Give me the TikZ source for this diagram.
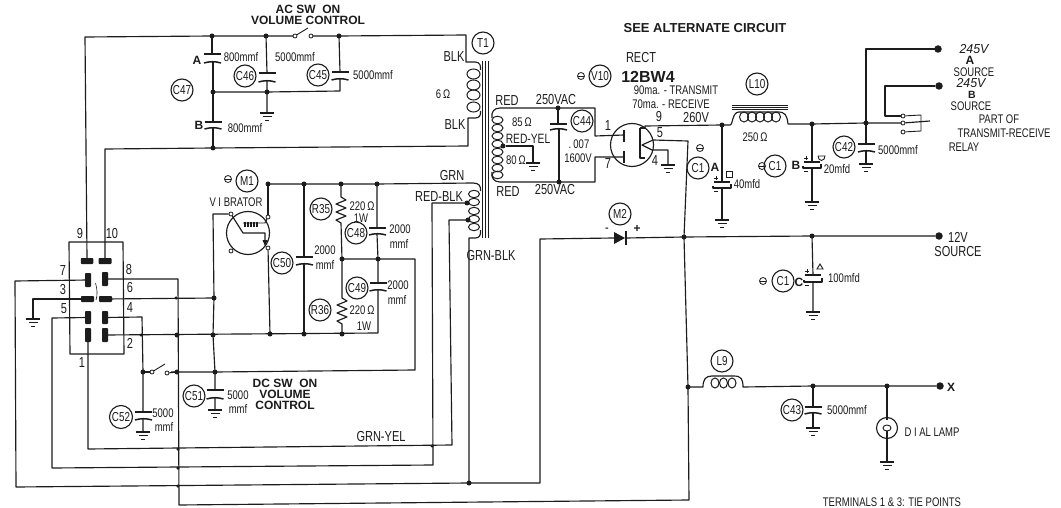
\documentclass[tikz,border=0pt]{standalone}
\usepackage{fontspec}
\setmainfont[FakeStretch=0.76]{Liberation Sans}
\newfontfamily\boldfam[FakeStretch=1.0]{Liberation Sans Bold}
\newfontfamily\italfam[FakeStretch=0.95]{Liberation Sans Italic}
\definecolor{ink}{HTML}{1C1C1C}
\tikzset{
  wire/.style={draw=ink,line width=1.15pt,line join=round},
  thinw/.style={draw=ink,line width=0.9pt},
  lbl/.style={text=ink,inner sep=0pt,font=\fontsize{12.5}{13}\selectfont,align=center},
  big/.style={text=ink,inner sep=0pt,font=\fontsize{14.5}{15}\selectfont,align=center},
  bld/.style={text=ink,inner sep=0pt,font=\boldfam\fontsize{12}{11.5}\selectfont,align=center},
  ital/.style={text=ink,inner sep=0pt,font=\italfam\fontsize{13}{13}\selectfont},
  cl/.style={circle,draw=ink,line width=1.1pt,inner sep=0pt,minimum size=22pt,text=ink,font=\fontsize{13}{13}\selectfont},
  neg/.style={circle,draw=ink,line width=0.8pt,inner sep=0pt,minimum size=7pt,path picture={\draw[ink,line width=.8pt] (path picture bounding box.west)--(path picture bounding box.east);}},
  jn/.style={circle,fill=ink,inner sep=0pt,minimum size=5pt},
  hop/.style={circle,fill=ink,inner sep=0pt,minimum size=3.5pt},
  term/.style={circle,fill=ink,inner sep=0pt,minimum size=7.5pt},
  ct/.style={circle,draw=ink,fill=white,line width=0.8pt,inner sep=0pt,minimum size=4pt},
  pad/.style={fill=ink,rounded corners=0.8pt,draw=none,inner sep=0pt},
}
\newcommand\mygnd[2]{%
  \draw[wire] (#1-7,#2)--(#1+7,#2);
  \draw[thinw] (#1-4.5,#2+3.5)--(#1+4.5,#2+3.5);
  \draw[thinw] (#1-2,#2+7)--(#1+2,#2+7);}
\newcommand\mycap[3]{%
  \draw[wire,line width=1.5pt] (#1-8.5,#2)--(#1+8.5,#2);
  \draw[wire,line width=1.5pt] (#1-8.5,#3+1) .. controls (#1-3,#3-0.7) and (#1+3,#3-0.7) .. (#1+8.5,#3+1);}
\newcommand\myelec[3]{%
  \draw[wire,line width=1.5pt] (#1-8,#2)--(#1+8,#2);
  \draw[wire] (#1-9,#3-1)--(#1-9,#3+1)--(#1+9,#3+1)--(#1+9,#3-3);
  \draw[thinw] (#1-6,#2-6)--(#1-6,#2-2) (#1-8,#2-4)--(#1-4,#2-4);
  \draw[thinw] (#1-8,#3+4)--(#1-4,#3+4);}
\begin{document}
\begin{tikzpicture}[x=1pt,y=-1pt]
\useasboundingbox (0,0) rectangle (1061,508);
\fill[white] (0,0) rectangle (1061,508);
% ---------- named points
\coordinate (p9) at (87,258);
\coordinate (p10) at (105,258);
\coordinate (tl) at (85,37);
\coordinate (jA) at (212,36);
\coordinate (jB) at (266,36);
\coordinate (swa) at (295,36);
\coordinate (swb) at (311,36);
\coordinate (jC) at (339,36);
\coordinate (t1a) at (466,35);
\coordinate (jD) at (213,92);
\coordinate (jE) at (267,92);
\coordinate (jF) at (213,148);
\coordinate (jG) at (268,184);
\coordinate (jH) at (304,184);
\coordinate (jI) at (341,184);
\coordinate (jJ) at (377,184);
\coordinate (jK) at (342,259);
\coordinate (jL) at (378,259);
\coordinate (b6) at (176,298);
\coordinate (jM) at (214,298);
\coordinate (b2a) at (141,335);
\coordinate (b2b) at (177,335);
\coordinate (b2c) at (213,335);
\coordinate (b2d) at (270,334);
\coordinate (b2e) at (304,334);
\coordinate (b2f) at (342,334);
\coordinate (b2g) at (378,333);
\coordinate (jS) at (143,372);
\coordinate (jT) at (177,372);
\coordinate (jU) at (215,372);
\coordinate (h1) at (178,449);
\coordinate (h2) at (178,468);
\coordinate (h3) at (178,486);
\coordinate (h4) at (432,446);
\coordinate (jV) at (469,483);
\coordinate (jW) at (558,108);
\coordinate (jX) at (559,182);
\coordinate (jY) at (722,125);
\coordinate (jZ) at (812,124);
\coordinate (jAA) at (866,123);
\coordinate (jAB) at (684,237);
\coordinate (jAC) at (812,236);
\coordinate (jAD) at (688,387);
\coordinate (jAE) at (813,386);
\coordinate (jAF) at (887,386);
\coordinate (tA) at (938,49);
\coordinate (tB) at (939,86);
\coordinate (tC) at (939,236);
\coordinate (tX) at (940,386);
% ---------- AC section
\draw[wire] (p9)--(tl)--(jA)--(jB)--(swa);
\draw[wire] (swb)--(jC)--(t1a)--(466,62)--(475,62) .. controls (480,62) and (481,66) .. (480.5,70);
\draw[wire] (480.5,111) .. controls (481,116) and (479,118) .. (475,118)--(468,118)--(468,146)--(jF)--(105,149)--(p10);
\draw[wire] (jA)--(212,54) (213,62)--(jD)--(213,122) (213,128)--(jF);
\draw[wire] (jB)--(267,73) (267,81)--(jE)--(267,113);
\draw[wire] (jC)--(340,72) (340,79)--(340,91)--(jE)--(jD);
\mycap{212.5}{54}{62}\mycap{267}{73}{81}\mycap{340}{72}{79}\mycap{213}{122}{128}
\mygnd{267}{113}
\draw[thinw] (296.5,35)--(308,28);
\node[ct] (nsa) at (swa) {}; \node[ct] (nsb) at (swb) {};
\foreach \n in {jA,jB,jC,jD,jE,jF} \node[jn] at (\n) {};
\node[cl] (c47) at (182,90) {C47}; \node[cl] (c46) at (245,76) {C46}; \node[cl] (c45) at (318,75) {C45};
\node[cl] (t1) at (483,43) {T1}; \node[cl] (m1) at (247,181) {M1}; \node[neg] (nm1) at (228,179) {};
\node[bld] (lA) at (197,60) {A}; \node[bld] (lB) at (199,125) {B};
\node[lbl] (t800a) at (241,57) {800mmf}; \node[lbl] (t800b) at (245,128) {800mmf};
\node[lbl] (t5a) at (295,57) {5000mmf}; \node[lbl] (t5b) at (373,75) {5000mmf};
\node[bld] (tac) at (308,15) {AC\ SW\ \ ON\\[-0.5pt]VOLUME CONTROL};
\node[big] (tb1) at (454,57) {BLK}; \node[big] (tb2) at (455,125) {BLK};
\node[lbl] (t6) at (443,94) {6$\,$Ω};
% ---------- transformer
\foreach \x in {482,485,488} \draw[thinw] (\x,61)--(\x,238);
\foreach \y in {74,85,95,107} \draw[thinw,line width=1pt] (473.5,\y) ellipse [x radius=6.5,y radius=5];
\foreach \y in {194,202,211,219,227} \draw[thinw,line width=1pt] (474,\y) ellipse [x radius=5.5,y radius=3.7];
\foreach \y in {120,128,136,144,152,160,168,175} \draw[thinw,line width=1pt] (497.5,\y) ellipse [x radius=5.5,y radius=3.8];
\draw[wire] (jG)--(jH)--(jI)--(jJ)--(473,183) .. controls (479,183) and (481,186) .. (480.5,191);
\draw[wire] (480.5,230) .. controls (481,236) and (479,238) .. (475,238)--(469,238)--(jV);
\draw[wire] (492,118) .. controls (491,112) and (494,108) .. (500,108)--(jW)--(595,108)--(595,136)--(624,135);
\draw[wire] (492,172) .. controls (491,178) and (494,182) .. (500,182)--(jX)--(595,182)--(595,157)--(624,157);
\draw[wire] (jW)--(558,124) (559,129)--(jX);
\mycap{558.5}{124}{129}
\node[jn] at (jW) {}; \node[jn] at (jX) {};
\node[jn] (tap3) at (503,146) {};
\draw[wire] (tap3)--(533,146)--(533,163);
\mygnd{533}{163}
\node[big] (t1r) at (507,101) {RED}; \node[big] (t250a) at (556,100) {250VAC};
\node[lbl] (t85) at (522,122) {85$\,$Ω}; \node[lbl,font=\fontsize{13.5}{14}\selectfont] (try) at (528,139) {RED-YEL};
\node[lbl] (t80) at (516,160) {80$\,$Ω}; \node[big] (t2r) at (508,192) {RED}; \node[big] (t250b) at (555,190) {250VAC};
\node[cl] (c44) at (582,121) {C44}; \node[lbl] (t007) at (579,144) {.\,007}; \node[lbl] (t1600) at (578,158) {1600V};
\node[big] (tgrn) at (452,176) {GRN}; \node[big] (trb) at (439,197) {RED-BLK}; \node[big] (tgb) at (491,256) {GRN-BLK};
% ---------- tube
\draw[wire] (632,145) circle [radius=21.5];
\draw[wire] (624,130)--(624,142) (624,151)--(624,163);
\draw[wire] (640,128)--(640,158)--(645,158) (640,128)--(645,128);
\draw[wire] (645,128)--(645,126)--(jY)--(730,125) .. controls (733,125) and (732,112) .. (739,112);
\draw[wire] (653,140)--(642,145)--(652,150)--(668,150)--(668,165);
\mygnd{668}{165}
\draw[wire] (653,140)--(688,141)--(jAB)--(jAD)--(689,500)--(179,505)--(178,279)--(108,279);
\node[big] (n1) at (608,126) {1}; \node[big] (n7) at (608,164) {7}; \node[big] (n9) at (659,117) {9};
\node[big] (n5) at (660,133) {5}; \node[big] (n4) at (655,161) {4}; \node[big] (t260) at (696,117.5) {260V};
\node[big] (trect) at (641,58) {RECT}; \node[bld,font=\boldfam\fontsize{16}{16}\selectfont] (t12) at (648,77) {12BW4};
\node[lbl] (t90) at (676,90) {90ma. - TRANSMIT}; \node[lbl] (t70) at (671,104) {70ma. - RECEIVE};
\node[cl] (v10) at (600,76) {V10}; \node[neg] (nv10) at (581,76) {};
\node[bld,font=\boldfam\fontsize{13}{13}\selectfont] (tsee) at (705,28) {SEE ALTERNATE CIRCUIT};
% ---------- filter
\draw[wire] (jY)--(722,182) (722,187)--(722,220);
\myelec{722}{182}{187}\mygnd{722}{220}
\node[jn] at (jY) {};
\node[cl] (c1a) at (698,168) {C1}; \node[neg] (nc1a) at (700,148) {}; \node[bld] (la1) at (715,167) {A};
\draw[thinw] (726,171) rectangle (732,177);
\node[lbl] (t40) at (747,184) {40mfd};
\foreach \x in {744,752,760,768,776} \draw[thinw,line width=1pt] (\x,117) ellipse [x radius=4.5,y radius=5];
\draw[wire] (739,112) -- (778,112) .. controls (785,112) and (787,115) .. (788,124)--(jZ)--(jAA)--(901,123);
\foreach \y in {105,107,109} \draw[thinw] (732,\y)--(788,\y);
\node[cl] (l10) at (757,84) {L10}; \node[lbl] (t250) at (755,137) {250$\,$Ω};
\draw[wire] (jZ)--(812,162) (812,167)--(812,202);
\myelec{812}{162}{167}\mygnd{812}{202}
\node[jn] at (jZ) {};
\node[cl] (c1b) at (775,166) {C1}; \node[neg] (nc1b) at (762,166) {}; \node[bld] (lb1) at (796,165) {B};
\draw[thinw] (818,156)--(825,156) arc (0:-180:3.5 and -4.5);
\node[lbl] (t20) at (837,169) {20mfd};
\draw[wire] (jAA)--(866,144) (866,151)--(866,164);
\mycap{866.5}{144}{151}\mygnd{866}{164}
\draw[wire] (jAA)--(866,49)--(tA);
\node[jn] at (jAA) {};
\node[term] (ntA) at (tA) {}; \node[term] (ntB) at (tB) {};
\draw[wire] (ntB)--(885,86)--(885,116)--(901,116);
\node[ct] (r1) at (903,116) {}; \node[ct] (r2) at (903,123) {}; \node[ct] (r3) at (903,132) {};
\draw[thinw] (r1)--(921,115)--(921,131)--(r3);
\draw[wire] (r2)--(930,121);
\node[cl] (c42) at (844,147) {C42}; \node[lbl] (t5c) at (898,150) {5000mmf};
\node[ital] (v245a) at (974,49) {245V};
\node[bld] (sa) at (970,60) {A}; \node[lbl] (so1) at (974,72) {SOURCE};
\node[ital] (v245b) at (971,83.5) {245V};
\node[bld,font=\boldfam\fontsize{10.5}{11}\selectfont] (sb) at (972,95) {B}; \node[lbl] (so2) at (971,106) {SOURCE};
\node[lbl] (tpart) at (999,119) {PART OF};
\node[lbl] (ttr) at (1004,133) {TRANSMIT-RECEIVE};
\node[lbl] (trel) at (964,147) {RELAY};
% ---------- 12V
\node[term] (ntC) at (tC) {};
\draw[wire] (jV)--(540,483)--(540,239)--(614,238);
\fill[ink] (614,232)--(614,244)--(625,238)--cycle;
\draw[wire,line width=1.6pt] (626,231)--(626,245);
\draw[wire] (626,238)--(jAB)--(jAC)--(ntC);
\draw[wire] (jAC)--(813,275) (813,281)--(813,312);
\myelec{813}{275}{281}\mygnd{813}{312}
\foreach \n in {jAB,jAC} \node[jn] at (\n) {};
\node[cl] (m2) at (620,214) {M2}; \node[big] (mm) at (607,230) {-}; \node[bld] (mp) at (637,229) {+};
\node[big] (t12v) at (958,237) {12V}; \node[big] (so3) at (958,252) {SOURCE};
\node[cl] (c1c) at (783,281) {C1}; \node[neg] (nc1c) at (763,281) {}; \node[bld] (lc1) at (799,282) {C};
\draw[thinw] (817,269)--(823,269)--(820,264)--cycle;
\node[lbl] (t100) at (844,278) {100mfd};
% ---------- L9 branch
\node[term] (ntX) at (tX) {};
\draw[wire] (jAD)--(703,387) .. controls (703,379) and (706,376) .. (712,376)--(734,376) .. controls (741,376) and (743,379) .. (743,387)--(jAE)--(jAF)--(ntX);
\foreach \x in {715,723.5,732} \draw[thinw,line width=1pt] (\x,383) ellipse [x radius=4,y radius=5];
\node[jn] at (jAD) {}; \node[jn] at (jAE) {}; \node[jn] at (jAF) {};
\node[cl] (l9) at (722,361) {L9}; \node[bld] (lx) at (951,387) {X};
\draw[wire] (jAE)--(813,407) (813,413)--(813,428);
\mycap{813}{407}{413}\mygnd{813}{428}
\node[cl] (c43) at (792,410) {C43}; \node[lbl] (t5d) at (847,410) {5000mmf};
\node[cl,minimum size=21pt] (lamp) at (887,428) {};
\draw[thinw] (887,428) ellipse [x radius=4,y radius=3];
\draw[wire] (jAF)--(887,420) (887,431)--(887,462);
\mygnd{887}{462}
\node[lbl] (tdl) at (932,432) {D I AL LAMP};
\node[lbl] (ttp) at (892,502) {TERMINALS 1 \& 3: TIE POINTS};
% ---------- vibrator
\draw[wire] (248,233) circle [radius=21.5];
\node[ct] (vtl) at (231,214) {}; \node[ct] (vtr) at (268,217) {}; \node[ct] (vbl) at (231,251) {}; \node[ct] (vbr) at (268,248) {};
\draw[wire] (vtr)--(jG);
\draw[wire] (vtl)--(213,214)--(jM)--(b2c)--(jU)--(215,390) (215,398)--(215,410);
\mycap{215}{390}{398}\mygnd{215}{410}
\draw[wire] (vbr)--(b2d);
\draw[wire] (vtl)--(243,233)--(265,233)--(265,240);
\fill[ink] (262.5,240)--(267.5,240)--(265,246)--cycle;
\draw[thinw] (243,223)--(265,223)--(vtr);
\foreach \x in {245,248,251,254,257} \draw[wire] (\x,222)--(\x,227);
\node[lbl] (tvib) at (236,202) {V I BRATOR};
% ---------- RC network
\draw[wire] (jH)--(304,257) (304,264)--(b2e);
\mycap{304.5}{257}{264}
\draw[wire] (jI)--(341,197)--(346,200)--(336,204)--(346,208)--(336,212)--(346,216)--(336,220)--(341,223)--(jK)--(342,298)--(347,301)--(337,305)--(347,309)--(337,313)--(347,317)--(337,321)--(342,324)--(b2f);
\draw[wire] (jJ)--(377,228) (377,234)--(jL)--(378,283) (378,290)--(b2g);
\mycap{377.5}{228}{234}\mycap{378}{283}{290}
\draw[wire] (jK)--(jL)--(415,259)--(415,370)--(jU)--(jT)--(171,372);
\foreach \n in {jG,jH,jI,jJ,jK,jL} \node[jn] at (\n) {};
\node[cl] (r35) at (321,209) {R35}; \node[lbl] (t220a) at (362,206) {220$\,$Ω}; \node[lbl] (t1wa) at (361,218.5) {1W};
\node[cl] (c48) at (356,233) {C48}; \node[lbl] (t2000a) at (400,229) {2000}; \node[lbl] (tmmfa) at (399,244) {mmf};
\node[cl] (c49) at (357,288) {C49}; \node[lbl] (t2000b) at (398,285) {2000}; \node[lbl] (tmmfb) at (397,300) {mmf};
\node[cl] (r36) at (320,310) {R36}; \node[lbl] (t220b) at (362,310) {220$\,$Ω}; \node[lbl] (t1wb) at (364,326) {1W};
\node[cl] (c50) at (282,263) {C50}; \node[lbl] (t2000c) at (325,250) {2000}; \node[lbl] (tmmfc) at (325,265) {mmf};
% ---------- switch block
\draw[wire] (123,242)--(69,242)--(70,354)--(124,354)--(123,242);
\node[pad,minimum width=12.5pt,minimum height=6pt] (pd9) at (87,261) {};
\node[pad,minimum width=13pt,minimum height=6pt] (pd10) at (105,261) {};
\node[pad,minimum width=6pt,minimum height=14pt] (pd7) at (88,280) {};
\node[pad,minimum width=6pt,minimum height=14pt] (pd8) at (105,279) {};
\node[pad,minimum width=13pt,minimum height=6pt] (pd3) at (87.5,299) {};
\node[pad,minimum width=13pt,minimum height=6pt] (pd6) at (105.5,299) {};
\node[pad,minimum width=6pt,minimum height=13pt] (pd5) at (88,317.5) {};
\node[pad,minimum width=6pt,minimum height=13pt] (pd4) at (105,317.5) {};
\node[pad,minimum width=6pt,minimum height=14pt] (pd1) at (88,335) {};
\node[pad,minimum width=6pt,minimum height=14pt] (pd2) at (105,335) {};
\draw[thinw,line width=.6pt] (95.5,283) .. controls (97.5,290) and (97.5,295) .. (96,300);
\draw[wire] (pd3)--(33,299)--(33,319);
\mygnd{33}{319}
\draw[wire] (pd7)--(15,281)--(16,487)--(jV);
\draw[wire] (pd5)--(52,318)--(52,468)--(433,465)--(432,203)--(467,203);
\draw[wire] (pd1)--(88,449)--(452,445)--(449,220)--(468,220);
\draw[wire] (pd6)--(jM);
\draw[wire] (pd4)--(142,317)--(jS)--(143,412) (143,419)--(143,432);
\mycap{143.5}{412}{419}\mygnd{143}{432}
\draw[wire] (pd2)--(b2g);
\draw[wire] (jS)--(151,372);
\node[ct] (dsa) at (152,372) {}; \node[ct] (dsb) at (167,373) {};
\draw[thinw] (153.5,371)--(165,364);
\draw[wire] (dsb)--(jT);
\foreach \n in {jS,b2b,b2c,jM,jT,jU,b2d,b2e,b2f} \node[jn] at (\n) {};
\foreach \n in {b2a,b6,h1,h2,h3,h4} \node[hop] at (\n) {};
\node[jn] (tap1) at (467,203) {}; \node[jn] (tap2) at (468,220) {}; \node[jn] at (jV) {};
\node[big] (b9) at (80,234) {9}; \node[big] (b10) at (112,234) {10};
\node[big] (b7) at (63,271) {7}; \node[big] (b8) at (129,270) {8};
\node[big] (b3) at (63,290) {3}; \node[big] (b6t) at (130,288) {6};
\node[big] (b5) at (64,309) {5}; \node[big] (b4) at (130,308) {4};
\node[big] (b2t) at (130,343) {2}; \node[big] (b1) at (82,363) {1};
\node[cl] (c51) at (194,396) {C51}; \node[lbl] (t5000e) at (238,395) {5000}; \node[lbl] (tmmfe) at (238,409) {mmf};
\node[cl,minimum size=23pt] (c52) at (121,417) {C52}; \node[lbl] (t5000f) at (163,413) {5000}; \node[lbl] (tmmff) at (164,427) {mmf};
\node[bld] (tdc) at (285,394) {DC\ SW\ \ ON\\[-0.5pt]VOLUME\\[-0.5pt]CONTROL};
\node[big] (tgy) at (381,437) {GRN-YEL};
\end{tikzpicture}
\end{document}
